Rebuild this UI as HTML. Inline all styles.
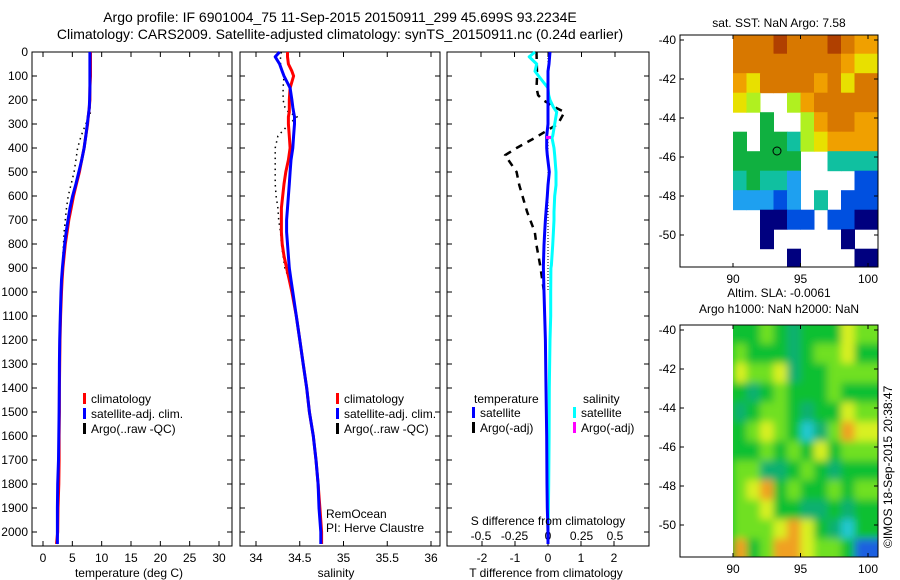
<!DOCTYPE html>
<html><head><meta charset="utf-8">
<style>
html,body{margin:0;padding:0;background:#fff;}
svg{display:block;font-family:"Liberation Sans",Arial,sans-serif;}
text{font-size:12px;fill:#000;}
</style></head>
<body>
<svg id="fig" width="900" height="580" viewBox="0 0 900 580" xmlns="http://www.w3.org/2000/svg">
<defs>
<filter id="blur" x="-5%" y="-5%" width="110%" height="110%"><feGaussianBlur stdDeviation="4"/></filter>
<clipPath id="slaclip"><rect x="733" y="35" width="145" height="232"/></clipPath>
</defs>
<text x="340" y="22" text-anchor="middle" style="font-size:14px">Argo profile: IF 6901004_75 11-Sep-2015 20150911_299 45.699S 93.2234E</text>
<text x="340" y="39" text-anchor="middle" style="font-size:14px">Climatology: CARS2009. Satellite-adjusted climatology: synTS_20150911.nc (0.24d earlier)</text>
<g id="g1"></g>
<g id="g2"></g>
<g id="g3"></g>
<g id="g4"></g>
<g id="g5"></g>
<text transform="translate(892,548) rotate(-90)" style="font-size:12px">©IMOS 18-Sep-2015 20:38:47</text>
</svg>
<script>
// ---- data ----
const depths = [0,20,50,80,100,150,200,230,250,270,300,350,400,450,500,550,600,650,700,750,800,850,900,950,1000,1100,1200,1300,1400,1500,1600,1700,1800,1900,2000,2050];
const tempClim = [8.1,8.1,8.1,8.1,8.1,8.0,8.0,7.9,7.8,7.7,7.6,7.3,7.0,6.6,6.2,5.7,5.2,4.8,4.4,4.1,3.8,3.6,3.4,3.25,3.15,3.0,2.9,2.85,2.8,2.8,2.75,2.75,2.7,2.55,2.5,2.3];
const tempSat = [8.0,8.0,8.0,8.0,8.0,8.0,7.95,7.9,7.8,7.7,7.55,7.3,7.0,6.6,6.1,5.6,5.05,4.6,4.26,3.95,3.7,3.5,3.3,3.15,3.07,2.95,2.85,2.8,2.78,2.75,2.7,2.65,2.5,2.45,2.45,2.45];
const tempArgo = [7.9,7.9,7.9,7.9,7.9,7.9,7.9,8.0,8.1,7.9,7.3,6.5,5.9,5.6,5.3,4.8,4.3,4.0,3.8,3.6,3.5,3.4,3.3,3.15,3.07,2.95,2.85,2.8,2.78,2.75,2.7,2.65,2.5,2.45,2.45,2.45];
const salClim = [34.36,34.36,34.37,34.41,34.43,34.39,34.38,34.38,34.38,34.37,34.37,34.38,34.39,34.37,34.34,34.32,34.305,34.29,34.29,34.29,34.30,34.32,34.35,34.38,34.41,34.46,34.50,34.54,34.58,34.61,34.655,34.686,34.71,34.73,34.75,34.75];
const salSat = [34.27,34.22,34.27,34.30,34.32,34.39,34.41,34.42,34.43,34.44,34.44,34.43,34.42,34.40,34.39,34.38,34.37,34.36,34.35,34.35,34.36,34.37,34.38,34.40,34.42,34.46,34.50,34.54,34.58,34.61,34.655,34.686,34.71,34.72,34.74,34.74];
const salArgo = [34.29,34.28,34.28,34.30,34.32,34.31,34.31,34.33,34.37,34.47,34.38,34.25,34.22,34.22,34.22,34.22,34.23,34.25,34.26,34.28,34.29,34.31,34.33,34.38,34.42,34.46,34.50,34.54,34.58,34.61,34.655,34.686,34.71,34.72,34.74,34.74];
const diffDepths = [0,20,50,80,100,150,180,200,230,250,300,350,358,400,430,500,555,600,667,700,750,805,888,900,1000,1100,1200,1400,1600,1800,1900,2000,2050];
const dTsat = [0.06,0.05,0.03,0.0,0.0,0.0,0.0,0.0,0.0,0.0,0.0,-0.04,-0.04,-0.04,-0.02,0.04,0.0,-0.02,-0.06,-0.08,-0.1,-0.12,-0.14,-0.14,-0.12,-0.1,-0.08,-0.06,-0.04,-0.03,-0.02,0.0,0.0];
const dSsat = [-0.097,-0.14,-0.084,-0.097,-0.07,0.0,0.005,0.015,0.04,0.065,0.05,0.035,0.03,0.045,0.05,0.06,0.06,0.05,0.045,0.045,0.04,0.035,0.025,0.022,0.02,0.02,0.015,0.01,0.008,0.005,0.003,0.0,0.0];
const dTargoDepths = [0,100,150,180,200,230,250,300,358,400,430,500,555,667,750,805,888,1000];
const dTargo = [-0.35,-0.33,-0.35,-0.3,-0.15,0.2,0.5,0.3,-0.4,-0.95,-1.3,-0.95,-0.87,-0.63,-0.4,-0.35,-0.24,-0.12];
const depthTicks = [0,100,200,300,400,500,600,700,800,900,1000,1100,1200,1300,1400,1500,1600,1700,1800,1900,2000];
const tempTicks = [0,5,10,15,20,25,30];
const salTicks = [34,34.5,35,35.5,36];
const tDiffTicks = [-2,-1,0,1,2];
const sDiffTicks = [-0.5,-0.25,0,0.25,0.5];
const latTicks = [-40,-42,-44,-46,-48,-50];
const lonTicks = [90,95,100];
// SST map cells (1x1 deg), rows from -40 southwards, cols lon 90..99; -1 = NaN
const sstGrid = [
[8,8,8,9,8,8,8,9,8,7],
[8,8,8,8,8,8,8,8,7,6],
[7,6,8,8,8,8,7,8,6,8],
[6,5,-1,-1,5,7,8,8,8,8],
[-1,-1,4,-1,-1,5,7,8,8,7],
[4,-1,4,4,3,5,6,7,7,7],
[4,4,4,4,4,-1,-1,3,3,3],
[3,4,3,3,2,-1,-1,-1,-1,1],
[2,2,2,1,2,-1,3,-1,1,1],
[-1,-1,0,0,1,1,-1,1,1,0],
[-1,-1,0,-1,-1,-1,-1,-1,0,-1],
[-1,-1,-1,-1,0,-1,-1,-1,-1,0]];
const slaGrid = [
[3,3,4,3,2,3,3,3,5,4],
[4,3,3,3,2,3,4,4,5,3],
[5,4,4,5,2,3,3,4,4,4],
[3,2,3,4,3,3,3,4,3,3],
[2,3,4,4,3,2,3,3,5,4],
[3,4,5,4,3,1,2,4,6,5],
[3,3,4,3,4,3,5,3,4,4],
[4,4,2,2,3,4,3,2,3,3],
[4,5,6,3,4,3,3,4,3,4],
[4,4,5,3,3,2,2,3,2,3],
[4,4,4,5,6,5,3,2,1,3],
[6,3,4,6,6,5,4,4,3,0]];
const sstColors = ["#00007f","#0050e0","#1ea0f0","#10c0a0","#10b040","#b0f020","#e8e000","#f0a000","#d87800","#b04000"];
const slaColors = ["#1a60e0","#20c8d0","#10b070","#10c030","#70e020","#d8f020","#f0a020"];

// ---- helpers ----
const NS="http://www.w3.org/2000/svg";
function mk(parent,tag,attrs){const e=document.createElementNS(NS,tag);for(const k in attrs)e.setAttribute(k,attrs[k]);parent.appendChild(e);return e;}
function txt(parent,x,y,s,anchor,size){const t=mk(parent,'text',{x:x,y:y,'text-anchor':anchor||'middle'});if(size)t.style.fontSize=size+'px';t.textContent=s;return t;}
const TOP=52,BOT=546;
const yD=d=>TOP+d*0.24;

function frame(g,L,R,T,B){
  const r=mk(g,'rect',{x:L,y:T,width:R-L,height:B-T,fill:'none',stroke:'#000','stroke-width':1});
  
  
}
function line(g,pts,color,w,dash,name){
  const p=mk(g,'polyline',{points:pts.map(q=>q[0].toFixed(1)+','+q[1].toFixed(1)).join(' '),fill:'none',stroke:color,'stroke-width':w,'stroke-linejoin':'round'});
  if(dash)p.setAttribute('stroke-dasharray',dash);
  
  
}
function depthAxis(g,L,R,labels){
  depthTicks.forEach(d=>{
    const y=yD(d);
    mk(g,'line',{x1:L,y1:y,x2:L+5,y2:y,stroke:'#000'});
    mk(g,'line',{x1:R,y1:y,x2:R-5,y2:y,stroke:'#000'});
    if(labels){const t=txt(g,L-4,y+4,String(d),'end');
      
      }
  });
}
function xAxis(g,ticks,fx,yb,yt,labelY,fmt){
  ticks.forEach(v=>{const x=fx(v);
    mk(g,'line',{x1:x,y1:yb,x2:x,y2:yb-5,stroke:'#000'});
    mk(g,'line',{x1:x,y1:yt,x2:x,y2:yt+5,stroke:'#000'});
    const t=txt(g,x,labelY,fmt?fmt(v):String(v));
    
    
  });
}
function legend(g,x,y,items){
  items.forEach((it,i)=>{
    const yy=y+i*15;
    const r=mk(g,'rect',{x:x,y:yy-10,width:3,height:11,fill:it[1]});
    
    
    const t=txt(g,x+8,yy,it[0],'start');
    
    
  });
}

// ---- panel 1: temperature ----
(function(){
  const g=document.getElementById('g1');const L=32,R=232;
  const xT=v=>43+v*5.867;
  frame(g,L,R,TOP,BOT);depthAxis(g,L,R,true);
  xAxis(g,tempTicks,xT,BOT,TOP,562);
  line(g,depths.map((d,i)=>[xT(tempArgo[i]),yD(d)]),'#000',1.5,'1.5,4','argo-temperature-line');
  line(g,depths.map((d,i)=>[xT(tempClim[i]),yD(d)]),'#ff0000',3,null,'climatology-temperature-line');
  line(g,depths.map((d,i)=>[xT(tempSat[i]),yD(d)]),'#0000ff',3,null,'satellite-temperature-line');
  const t=txt(g,129,577,'temperature (deg C)');
  legend(g,83,403,[['climatology','#ff0000'],['satellite-adj. clim.','#0000ff'],['Argo(..raw -QC)','#000']]);
})();

// ---- panel 2: salinity ----
(function(){
  const g=document.getElementById('g2');const L=240,R=440;
  const xS=v=>256+(v-34)*87.5;
  frame(g,L,R,TOP,BOT);depthAxis(g,L,R,false);
  xAxis(g,salTicks,xS,BOT,TOP,562);
  line(g,depths.map((d,i)=>[xS(salArgo[i]),yD(d)]),'#000',1.5,'1.5,4','argo-salinity-line');
  line(g,depths.map((d,i)=>[xS(salClim[i]),yD(d)]),'#ff0000',3,null,'climatology-salinity-line');
  line(g,depths.map((d,i)=>[xS(salSat[i]),yD(d)]),'#0000ff',3,null,'satellite-salinity-line');
  const t=txt(g,336,577,'salinity');
  legend(g,336,403,[['climatology','#ff0000'],['satellite-adj. clim.','#0000ff'],['Argo(..raw -QC)','#000']]);
  txt(g,326,518,'RemOcean','start');txt(g,326,532,'PI: Herve Claustre','start');
})();

// ---- panel 3: differences ----
(function(){
  const g=document.getElementById('g3');const L=447,R=649;
  const xT=v=>548+v*33;const xS=v=>548+v*134;
  frame(g,L,R,TOP,BOT);depthAxis(g,L,R,false);
  tDiffTicks.forEach(v=>{const x=xT(v);mk(g,'line',{x1:x,y1:BOT,x2:x,y2:BOT-5,stroke:'#000'});
    const t=txt(g,x,562,String(v));});
  sDiffTicks.forEach(v=>{const x=xS(v);mk(g,'line',{x1:x,y1:TOP,x2:x,y2:TOP+5,stroke:'#000'});
    const t=txt(g,x,540,String(v));});
  mk(g,'line',{x1:548,y1:TOP,x2:548,y2:yD(1000),stroke:'#000','stroke-width':1,'stroke-dasharray':'1,2'});
  line(g,dTargoDepths.map((d,i)=>[xT(dTargo[i]),yD(d)]),'#000',2.5,'7,6','argo-t-diff-line');
  line(g,diffDepths.map((d,i)=>[xS(dSsat[i]),yD(d)]),'#00ffff',3,null,'satellite-s-diff-line');
  line(g,diffDepths.map((d,i)=>[xT(dTsat[i]),yD(d)]),'#0000ff',3,null,'satellite-t-diff-line');
  mk(g,'rect',{x:546,y:yD(358)-2,width:5,height:3,fill:'#ff00ff'});
  txt(g,474,403,'temperature','start');txt(g,583,403,'salinity','start');
  legend(g,472,417,[['satellite','#0000ff'],['Argo(-adj)','#000']]);
  legend(g,573,417,[['satellite','#00ffff'],['Argo(-adj)','#ff00ff']]);
  txt(g,548,525,'S difference from climatology');
  const t=txt(g,546,577,'T difference from climatology');
})();

// ---- maps ----
function map(g,T,B,grid,colors,name,smooth){
  const L=680,R=878;
  const xL=v=>733+(v-90)*13.5;
  const yL=v=>40+(-40-v)*19.5;
  let cg=g;
  if(smooth){
    const clip=mk(g,'g',{'clip-path':'url(#slaclip)'});
    mk(clip,'rect',{x:733,y:T,width:R-733,height:B-T,fill:colors[3]});
    cg=mk(clip,'g',{filter:'url(#blur)'});
  }
  grid.forEach((row,ri)=>row.forEach((c,ci)=>{
    if(c<0)return;
    let lat0=-40+0.3-ri, lat1=Math.max(lat0-1,-51.7);
    let y0=Math.max(T,yL(lat0)), y1=Math.min(B,yL(lat1));
    let x0=xL(90+ci), x1=Math.min(R,xL(91+ci)+(ci==9?14:0));
    if(smooth){ if(ri==0)y0-=10; if(ri==grid.length-1)y1+=10; if(ci==9)x1+=10; }
    const r=mk(cg,'rect',{x:x0.toFixed(1),y:y0.toFixed(1),width:(x1-x0+0.5).toFixed(1),height:(y1-y0+0.5).toFixed(1),fill:colors[c]});
    
    
  }));
  frame(g,L,R,T,B);
  latTicks.forEach(v=>{const y=yL(v);mk(g,'line',{x1:L,y1:y,x2:L+4,y2:y,stroke:'#000'});mk(g,'line',{x1:R,y1:y,x2:R-4,y2:y,stroke:'#000'});
    const t=txt(g,L-4,y+4,String(v),'end');});
  lonTicks.forEach(v=>{const x=xL(v);mk(g,'line',{x1:x,y1:B,x2:x,y2:B-4,stroke:'#000'});mk(g,'line',{x1:x,y1:T,x2:x,y2:T+4,stroke:'#000'});
    const t=txt(g,x,B+16,String(v));});
}
(function(){
  const g=document.getElementById('g4');
  map(g,35,267,sstGrid,sstColors,'sst',false);
  mk(g,'circle',{cx:777,cy:151,r:4,fill:'none',stroke:'#000'});
  txt(g,779,27,'sat. SST: NaN Argo: 7.58');
})();
(function(){
  const g=document.getElementById('g5');
  const gg=mk(g,'g',{transform:'translate(0,290)'});
  map(gg,35,267,slaGrid,slaColors,'sla',true);
  txt(g,779,297,'Altim. SLA: -0.0061');
  txt(g,779,313,'Argo h1000: NaN h2000: NaN');
})();
</script>
</body></html>
